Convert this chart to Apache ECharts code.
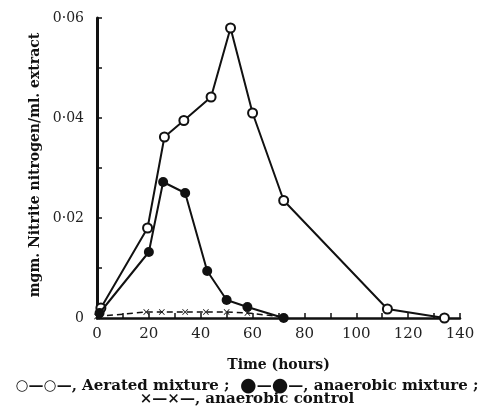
<!DOCTYPE html>
<html><head><meta charset="utf-8">
<script src="https://cdn.jsdelivr.net/npm/echarts@6/dist/echarts.min.js"></script>
<style>html,body{margin:0;padding:0;background:#fff}#c{width:494px;height:408px}</style>
</head><body><div id="c"></div>
<script>
const aeratedHours = [1.5, 19.5, 26, 33.5, 44, 51.5, 60, 72, 112, 134];
const aeratedValues = [0.002, 0.018, 0.0362, 0.0395, 0.0442, 0.058, 0.041, 0.0235, 0.0018, 0];
const anaerobicHours = [1, 20, 25.5, 34, 42.5, 50, 58, 72];
const anaerobicValues = [0.001, 0.0132, 0.0272, 0.025, 0.0094, 0.0036, 0.0022, 0];
const controlHours = [0, 19, 25, 34, 42, 50, 58, 72];
const controlValues = [0.0003, 0.0012, 0.0012, 0.0012, 0.0012, 0.0012, 0.001, 0.0002];
const xTicks = [0, 20, 40, 60, 80, 100, 120, 140];
const yTickLabels = {0: '0', 0.02: '0·02', 0.04: '0·04', 0.06: '0·06'};

const zip = (xs, ys) => xs.map((x, i) => [x, ys[i]]);
const serif = 'DejaVu Serif';
const crossPath = 'path://M0,1L1,0L5,4L9,0L10,1L6,5L10,9L9,10L5,6L1,10L0,9L4,5Z';

const chart = echarts.init(document.getElementById('c'));
chart.setOption({
  animation: false,
  grid: {left: 97, right: 34, top: 18, bottom: 90},
  xAxis: {
    type: 'value', min: 0, max: 140, interval: 20,
    axisLine: {lineStyle: {color: '#111', width: 2.5}},
    axisTick: {inside: true, length: 5, lineStyle: {color: '#111', width: 1.5}},
    minorTick: {show: true, splitNumber: 2, length: 5, lineStyle: {color: '#111', width: 1.5}},
    splitLine: {show: false},
    axisLabel: {color: '#222', fontFamily: serif, fontSize: 15, margin: 9,
      formatter: v => xTicks.includes(v) ? String(v) : ''},
    name: 'Time (hours)', nameLocation: 'middle', nameGap: 40,
    nameTextStyle: {color: '#111', fontFamily: serif, fontWeight: 'bold', fontSize: 14}
  },
  yAxis: {
    type: 'value', min: 0, max: 0.06, interval: 0.02,
    axisLine: {lineStyle: {color: '#111', width: 3}},
    axisTick: {inside: true, length: 5, lineStyle: {color: '#111', width: 1.5}},
    minorTick: {show: true, splitNumber: 2, length: 5, lineStyle: {color: '#111', width: 1.5}},
    splitLine: {show: false},
    axisLabel: {color: '#222', fontFamily: serif, fontSize: 14, margin: 13,
      formatter: v => { const k = Math.round(v * 100) / 100; return yTickLabels[k] !== undefined ? yTickLabels[k] : ''; }},
    name: 'mgm. Nitrite nitrogen/ml. extract', nameLocation: 'middle', nameGap: 44, nameRotate: 90,
    nameTextStyle: {color: '#111', fontFamily: serif, fontWeight: 'bold', fontSize: 14, padding: [0, 0, 0, 6]}
  },
  series: [
    {type: 'line', data: zip(aeratedHours, aeratedValues), symbol: 'emptyCircle', symbolSize: 9,
      lineStyle: {color: '#111', width: 2}, itemStyle: {color: '#111', borderWidth: 1.5}, z: 3},
    {type: 'line', data: zip(anaerobicHours, anaerobicValues), symbol: 'circle', symbolSize: 10,
      lineStyle: {color: '#111', width: 2}, itemStyle: {color: '#111'}, z: 4},
    {type: 'line', data: zip(controlHours, controlValues), symbol: crossPath, symbolSize: 6,
      lineStyle: {color: '#111', width: 1.5, type: [6, 4]}, itemStyle: {color: '#111'}, z: 2}
  ],
  graphic: [
    {type: 'text', left: 'center', top: 377,
      style: {text: '{s|○}—{s|○}—, Aerated mixture ;  {b|●}—{b|●}—, anaerobic mixture ;', fill: '#111',
        font: 'bold 15px "DejaVu Serif"', lineHeight: 16,
        rich: {s: {fontSize: 15, fontFamily: 'DejaVu Sans', fill: '#111', lineHeight: 16},
               b: {fontSize: 19, fontFamily: 'DejaVu Sans', fill: '#111', lineHeight: 16}}}},
    {type: 'text', left: 'center', top: 392,
      style: {text: '×—×—, anaerobic control', fill: '#111', font: 'bold 15px "DejaVu Serif"'}}
  ]
});
</script></body></html>
